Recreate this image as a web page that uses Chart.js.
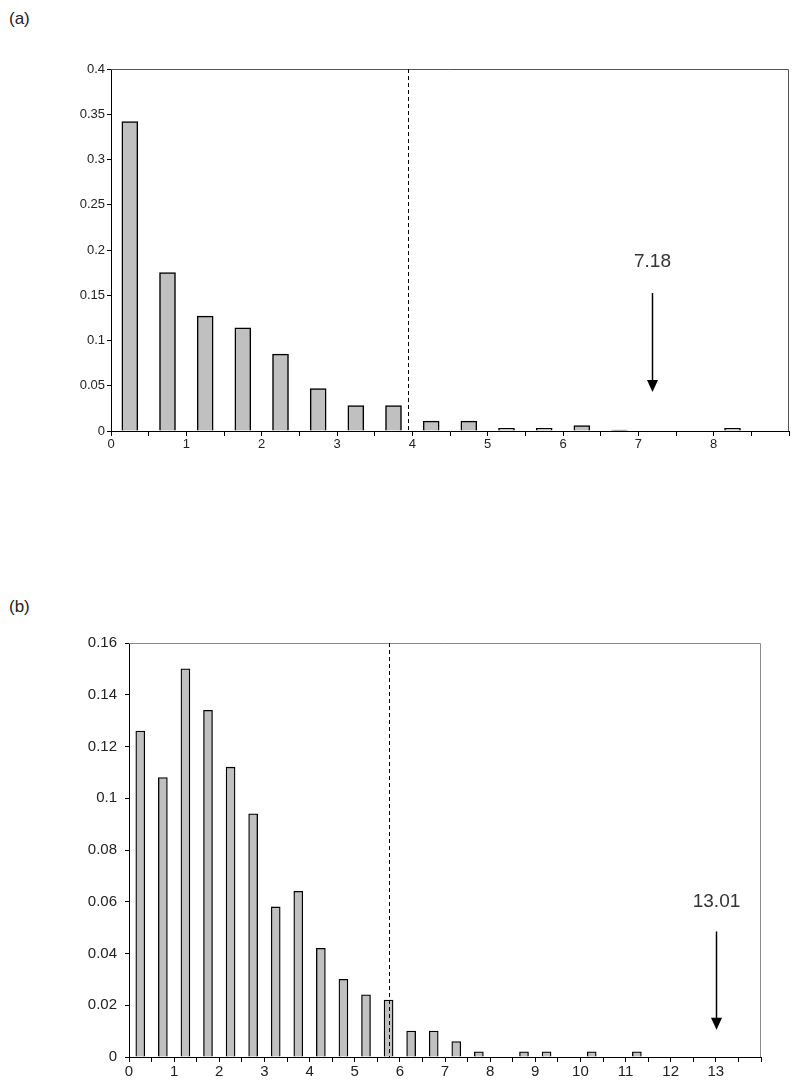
<!DOCTYPE html>
<html>
<head>
<meta charset="utf-8">
<script src="https://cdn.jsdelivr.net/npm/chart.js@4.4.0/dist/chart.umd.min.js"></script>
<style>
html, body { margin: 0; padding: 0; background: #fff; }
body { width: 800px; height: 1092px; position: relative; overflow: hidden; font-family: "Liberation Sans", Arial, sans-serif; }
.panel { position: absolute; left: 0; }
.tag { position: absolute; left: 9px; font-size: 17px; color: #222; }
</style>
</head>
<body>
<div class="tag" style="top:9px">(a)</div>
<div class="tag" style="top:597px">(b)</div>
<div class="panel" style="top:0"><canvas id="chartA" width="800" height="470"></canvas></div>
<div class="panel" style="top:560px"><canvas id="chartB" width="800" height="532"></canvas></div>
<script>
// Panel (a): bins of width 0.5, bars at bin centres
const binsA = [0.25, 0.75, 1.25, 1.75, 2.25, 2.75, 3.25, 3.75, 4.25, 4.75, 5.25, 5.75, 6.25, 6.75, 7.25, 7.75, 8.25, 8.75];
const valuesA = [0.342, 0.175, 0.127, 0.114, 0.085, 0.047, 0.028, 0.028, 0.011, 0.011, 0.003, 0.003, 0.006, 0.001, 0, 0, 0.003, 0];
const xLabelsA = [0, 1, 2, 3, 4, 5, 6, 7, 8];
const yTicksA = [0, 0.05, 0.1, 0.15, 0.2, 0.25, 0.3, 0.35, 0.4];
const cutoffA = 3.94;
const markA = 7.18;

// Panel (b)
const binsB = [0.25, 0.75, 1.25, 1.75, 2.25, 2.75, 3.25, 3.75, 4.25, 4.75, 5.25, 5.75, 6.25, 6.75,
               7.25, 7.75, 8.25, 8.75, 9.25, 9.75, 10.25, 10.75, 11.25, 11.75, 12.25, 12.75, 13.25, 13.75];
const valuesB = [0.126, 0.108, 0.150, 0.134, 0.112, 0.094, 0.058, 0.064, 0.042, 0.030, 0.024, 0.022, 0.010, 0.010,
                 0.006, 0.002, 0, 0.002, 0.002, 0, 0.002, 0, 0.002, 0, 0, 0, 0, 0];
const xLabelsB = [0, 1, 2, 3, 4, 5, 6, 7, 8, 9, 10, 11, 12, 13];
const yTicksB = [0, 0.02, 0.04, 0.06, 0.08, 0.1, 0.12, 0.14, 0.16];
const cutoffB = 5.76;
const markB = 13.01;

// frame on top/right, dashed cutoff line, arrow with value label
const overlayPlugin = {
    id: 'overlay',
    beforeDatasetsDraw(chart, args, opts) {
        const a = chart.chartArea;
        const ctx = chart.ctx;
        ctx.save();
        ctx.strokeStyle = opts.frameColor;
        ctx.lineWidth = 1;
        ctx.beginPath();
        ctx.moveTo(a.left, a.top + 0.5);
        ctx.lineTo(a.right - 0.5, a.top + 0.5);
        ctx.lineTo(a.right - 0.5, a.bottom);
        ctx.stroke();
        ctx.restore();
    },
    afterDatasetsDraw(chart, args, opts) {
        const a = chart.chartArea;
        const ctx = chart.ctx;
        const xs = chart.scales.x, ys = chart.scales.y;
        ctx.save();
        // dashed line
        const cx = Math.round(xs.getPixelForValue(opts.cutoff)) + 0.5;
        ctx.strokeStyle = '#000';
        ctx.lineWidth = 1;
        ctx.setLineDash([4, 3]);
        ctx.beginPath();
        ctx.moveTo(cx, a.top);
        ctx.lineTo(cx, a.bottom);
        ctx.stroke();
        ctx.setLineDash([]);
        // arrow
        const ax = Math.round(xs.getPixelForValue(opts.mark)) + 0.5;
        const y1 = ys.getPixelForValue(opts.arrowTop);
        const y2 = ys.getPixelForValue(opts.arrowTip);
        ctx.lineWidth = 1.5;
        ctx.beginPath();
        ctx.moveTo(ax, y1);
        ctx.lineTo(ax, y2 - 10);
        ctx.stroke();
        ctx.fillStyle = '#000';
        ctx.beginPath();
        ctx.moveTo(ax - 5.5, y2 - 12);
        ctx.lineTo(ax + 5.5, y2 - 12);
        ctx.lineTo(ax, y2);
        ctx.closePath();
        ctx.fill();
        // label
        ctx.fillStyle = '#333';
        ctx.font = opts.labelSize + 'px "Liberation Sans", Arial, sans-serif';
        ctx.textAlign = 'center';
        ctx.textBaseline = 'middle';
        ctx.fillText(String(opts.mark), ax, ys.getPixelForValue(opts.labelAt));
        ctx.restore();
    }
};

function makeChart(id, p) {
    return new Chart(document.getElementById(id), {
        type: 'bar',
        data: {
            datasets: [{
                data: p.bins.map((x, i) => ({ x: x, y: p.values[i] })),
                backgroundColor: '#c0c0c0',
                borderColor: '#000',
                borderWidth: p.barBorder,
                borderSkipped: 'bottom',
                barThickness: p.barWidth
            }]
        },
        options: {
            responsive: false,
            animation: false,
            layout: { padding: { top: p.padTop, right: p.padRight, left: 0, bottom: 0 } },
            plugins: {
                legend: { display: false },
                tooltip: { enabled: false },
                overlay: {
                    frameColor: p.frameColor,
                    cutoff: p.cutoff,
                    mark: p.mark,
                    arrowTop: p.arrowTop,
                    arrowTip: p.arrowTip,
                    labelAt: p.labelAt,
                    labelSize: p.labelSize
                }
            },
            scales: {
                x: {
                    type: 'linear',
                    min: 0,
                    max: p.xMax,
                    offset: false,
                    grid: { offset: false, drawOnChartArea: false, color: '#000', tickLength: 5 },
                    border: { color: '#000', width: 1 },
                    ticks: {
                        stepSize: 0.5,
                        autoSkip: false,
                        maxRotation: 0,
                        padding: 1,
                        color: '#222',
                        font: { family: '"Liberation Sans", Arial, sans-serif', size: p.fontSize },
                        callback: v => p.xLabels.includes(v) ? String(v) : ''
                    },
                    afterFit: s => { s.height = p.xHeight; }
                },
                y: {
                    min: 0,
                    max: p.yTicks[p.yTicks.length - 1],
                    grid: { drawOnChartArea: false, color: '#000', tickLength: 4 },
                    border: { color: '#000', width: 1 },
                    ticks: {
                        padding: p.yPad,
                        color: '#222',
                        font: { family: '"Liberation Sans", Arial, sans-serif', size: p.fontSize },
                        callback: v => String(+v.toFixed(3))
                    },
                    afterBuildTicks: s => { s.ticks = p.yTicks.map(v => ({ value: v })); },
                    afterFit: s => { s.width = p.yWidth; }
                }
            }
        },
        plugins: [overlayPlugin]
    });
}

makeChart('chartA', {
    bins: binsA, values: valuesA, xLabels: xLabelsA, yTicks: yTicksA,
    xMax: 9, cutoff: cutoffA, mark: markA,
    arrowTop: 0.1525, arrowTip: 0.043, labelAt: 0.187, labelSize: 19,
    barWidth: 16, barBorder: 1.5, fontSize: 13, yPad: 2,
    padTop: 69, padRight: 11, yWidth: 111, xHeight: 39, frameColor: '#555'
});

makeChart('chartB', {
    bins: binsB, values: valuesB, xLabels: xLabelsB, yTicks: yTicksB,
    xMax: 14, cutoff: cutoffB, mark: markB,
    arrowTop: 0.0485, arrowTip: 0.0105, labelAt: 0.060, labelSize: 19,
    barWidth: 9, barBorder: 1.3, fontSize: 15, yPad: 8,
    padTop: 83, padRight: 39, yWidth: 129, xHeight: 35, frameColor: '#888'
});
</script>
</body>
</html>
